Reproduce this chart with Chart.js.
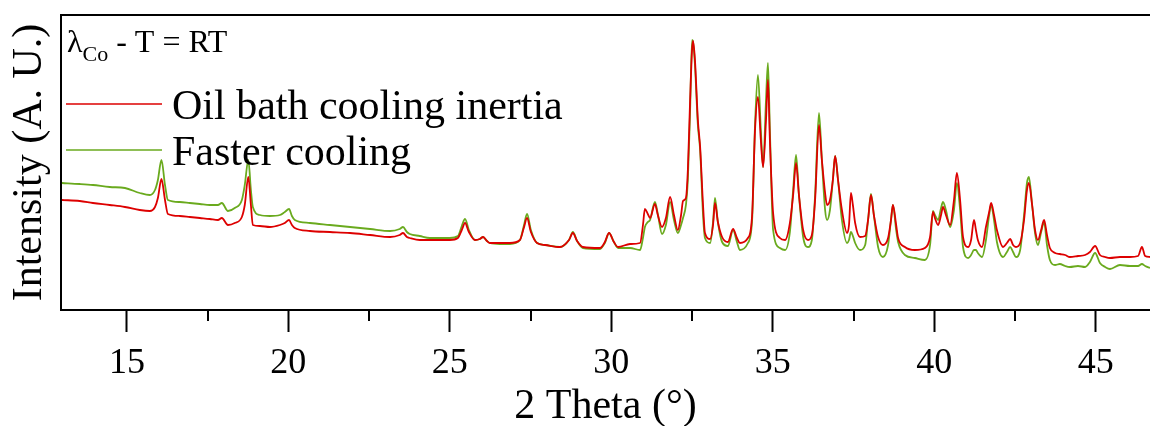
<!DOCTYPE html>
<html><head><meta charset="utf-8">
<script src="https://cdn.jsdelivr.net/npm/chart.js@4.4.1/dist/chart.umd.min.js"></script>
<style>html,body{margin:0;padding:0;background:#fff;}#wrap{width:1150px;height:426px;}</style>
</head><body><div id="wrap"><canvas id="c" width="1150" height="426"></canvas></div>
<script>
// 2 Theta (degrees)
const angles = [
 12.99,13.54,13.95,14.47,14.94,15.40,15.71,15.87,15.96,16.07,
 16.18,16.27,16.64,16.95,17.26,17.57,17.82,17.94,18.13,18.34,
 18.56,18.65,18.76,18.84,18.90,19.12,19.43,19.74,19.89,20.02,
 20.11,20.20,20.67,21.29,21.91,22.53,23.15,23.45,23.55,23.67,
 23.76,24.07,24.38,25.00,25.25,25.37,25.47,25.59,25.78,25.93,
 26.03,26.15,26.24,26.55,26.86,27.17,27.29,27.39,27.51,27.70,
 27.95,28.41,28.69,28.81,28.94,29.12,29.65,29.80,29.93,30.08,
 30.21,30.58,30.89,30.98,31.04,31.13,31.20,31.35,31.44,31.57,
 31.69,31.82,31.94,32.06,32.16,32.22,32.31,32.37,32.44,32.50,
 32.53,32.59,32.68,32.75,32.84,32.90,33.06,33.15,33.21,33.30,
 33.43,33.61,33.77,33.89,33.98,34.23,34.36,34.45,34.54,34.63,
 34.70,34.79,34.85,34.91,35.01,35.22,35.38,35.53,35.63,35.72,
 35.81,35.94,36.09,36.21,36.31,36.43,36.52,36.62,36.68,36.77,
 36.86,36.93,37.02,37.14,37.30,37.36,37.42,37.48,37.55,37.70,
 37.86,37.95,38.04,38.13,38.26,38.41,38.57,38.66,38.72,38.82,
 38.88,39.09,39.40,39.71,39.87,39.96,40.02,40.12,40.21,40.27,
 40.36,40.49,40.61,40.70,40.80,40.89,41.05,41.14,41.23,41.29,
 41.35,41.48,41.60,41.70,41.76,41.85,41.94,42.13,42.25,42.35,
 42.44,42.53,42.66,42.78,42.87,42.93,43.03,43.12,43.21,43.31,
 43.40,43.49,43.58,43.74,43.89,44.05,44.20,44.45,44.67,44.82,
 44.98,45.13,45.29,45.44,45.75,46.06,46.31,46.43,46.53,46.68
];
// Oil bath cooling inertia (red), arbitrary units
const oilBath = [
 110,109,107,105,103,100,99,103,112,131,
 110,96,94,93,92,91,90,92,85,87,
 93,105,133,105,85,84,83,85,87,90,
 85,82,79,78,77,75,73,75,77,73,
 72,70,70,70,72,80,87,78,70,71,
 73,69,67,67,67,70,82,92,78,67,
 65,63,70,77,69,63,62,68,77,68,
 63,66,67,85,101,96,92,106,95,83,
 92,113,95,80,95,109,112,140,210,260,
 269,250,190,163,105,77,71,85,107,88,
 73,68,81,72,67,72,95,180,213,170,
 143,190,230,170,97,72,70,87,115,147,
 115,80,70,75,110,185,150,117,105,110,
 130,154,130,100,77,85,117,105,87,73,
 74,90,115,95,73,65,72,90,105,85,
 72,63,60,62,73,98,92,85,95,103,
 95,85,110,137,110,73,63,70,90,80,
 70,63,83,98,107,95,80,63,67,71,
 65,63,67,90,120,127,105,80,70,80,
 90,75,62,57,56,55,53,54,55,58,
 64,55,53,52,53,53,54,63,54,53
];
// Faster cooling (green), arbitrary units
const fasterCooling = [
 127,126,125,123,122,117,115,120,130,150,
 125,110,108,107,106,105,105,107,99,102,
 110,125,150,120,103,95,94,95,98,101,
 94,90,87,85,83,81,79,81,83,78,
 76,74,72,72,74,84,91,80,70,71,
 73,69,67,66,66,70,84,96,80,67,
 65,63,70,78,69,62,61,67,77,68,
 62,62,60,72,83,88,90,108,96,76,
 85,108,90,77,85,92,105,130,200,270,
 268,245,185,160,95,72,67,88,112,88,
 68,64,80,68,60,67,90,185,235,180,
 143,210,247,180,80,62,60,78,120,155,
 115,73,63,70,115,197,150,100,90,100,
 130,154,130,90,67,70,78,74,67,60,
 65,90,116,95,63,53,65,90,105,80,
 68,55,52,50,65,99,95,90,102,108,
 100,83,100,127,100,63,52,55,60,60,
 57,53,70,95,105,90,68,53,58,63,
 58,53,60,95,127,133,105,77,65,78,
 88,65,50,45,46,44,43,44,43,48,
 57,47,43,41,45,44,44,46,44,42
];
const seriesNames = ['Oil bath cooling inertia', 'Faster cooling'];
const seriesColors = ['#dd0000', '#6aaa1e'];
const majorTicks = [15, 20, 25, 30, 35, 40, 45];
const minorTicks = [17.5, 22.5, 27.5, 32.5, 37.5, 42.5];
const xTitle = '2 Theta (°)';
const yTitle = 'Intensity (A. U.)';
const noteMain = 'λ';
const noteSub = 'Co';
const noteRest = ' - T = RT';

const SERIF = '"Liberation Serif", "Times New Roman", serif';

const decor = {
  id: 'decor',
  afterDraw(chart) {
    const ctx = chart.ctx;
    const a = chart.chartArea;
    const xs = chart.scales.x;
    ctx.save();
    // top frame line
    ctx.strokeStyle = '#000';
    ctx.lineWidth = 2;
    ctx.beginPath();
    ctx.moveTo(a.left - 1, a.top);
    ctx.lineTo(a.right, a.top);
    ctx.stroke();
    // minor ticks
    minorTicks.forEach(v => {
      const px = Math.round(xs.getPixelForValue(v));
      ctx.beginPath();
      ctx.moveTo(px, a.bottom);
      ctx.lineTo(px, a.bottom + 11);
      ctx.stroke();
    });
    // legend
    const lx0 = a.left + 5, lx1 = a.left + 101;
    const rows = [a.top + 89, a.top + 135];
    ctx.font = '42px ' + SERIF;
    ctx.textBaseline = 'alphabetic';
    ctx.textAlign = 'left';
    seriesNames.forEach((name, i) => {
      ctx.strokeStyle = seriesColors[i];
      ctx.lineWidth = 1.5;
      ctx.beginPath();
      ctx.moveTo(lx0, rows[i]);
      ctx.lineTo(lx1, rows[i]);
      ctx.stroke();
      ctx.fillStyle = '#000';
      ctx.fillText(name, a.left + 111, rows[i] + 15);
    });
    // annotation
    let x = a.left + 6;
    const base = a.top + 37;
    ctx.font = '32px ' + SERIF;
    ctx.fillText(noteMain, x, base);
    x += ctx.measureText(noteMain).width;
    ctx.font = '22px ' + SERIF;
    ctx.fillText(noteSub, x, base + 9);
    x += ctx.measureText(noteSub).width;
    ctx.font = '32px ' + SERIF;
    ctx.fillText(noteRest, x, base);
    ctx.restore();
  }
};

new Chart(document.getElementById('c'), {
  type: 'line',
  data: {
    datasets: [
      { label: seriesNames[0], data: angles.map((v, i) => ({x: v, y: oilBath[i]})),
        borderColor: seriesColors[0], borderWidth: 1.8, pointRadius: 0,
        cubicInterpolationMode: 'monotone', fill: false },
      { label: seriesNames[1], data: angles.map((v, i) => ({x: v, y: fasterCooling[i]})),
        borderColor: seriesColors[1], borderWidth: 1.8, pointRadius: 0,
        cubicInterpolationMode: 'monotone', fill: false }
    ]
  },
  options: {
    responsive: false,
    animation: false,
    devicePixelRatio: 1,
    layout: { padding: { left: 2, top: 15, right: 0, bottom: 0 } },
    plugins: { legend: { display: false }, tooltip: { enabled: false } },
    scales: {
      x: {
        type: 'linear', position: 'bottom', min: 12.96, max: 46.68,
        afterBuildTicks: s => { s.ticks = majorTicks.map(v => ({ value: v })); },
        ticks: { font: { family: SERIF, size: 36, lineHeight: 64 / 36 }, color: '#000', padding: 0,
                 maxRotation: 0, autoSkip: false, callback: v => String(v) },
        grid: { display: true, drawOnChartArea: false, drawTicks: true, tickLength: 22,
                tickWidth: 2, tickColor: '#000', color: '#000' },
        border: { display: true, color: '#000', width: 2 },
        title: { display: true, text: xTitle, color: '#000',
                 font: { family: SERIF, size: 42, lineHeight: 1.0 }, padding: { top: -10, bottom: -2 } }
      },
      y: {
        min: 0, max: 295,
        ticks: { display: false },
        grid: { display: false, drawTicks: false },
        border: { display: true, color: '#000', width: 2 },
        title: { display: true, text: yTitle, color: '#000',
                 font: { family: SERIF, size: 42, lineHeight: 1.2 }, padding: { top: 2.8, bottom: 5.8 } }
      }
    }
  },
  plugins: [decor]
});
</script>
</body></html>
